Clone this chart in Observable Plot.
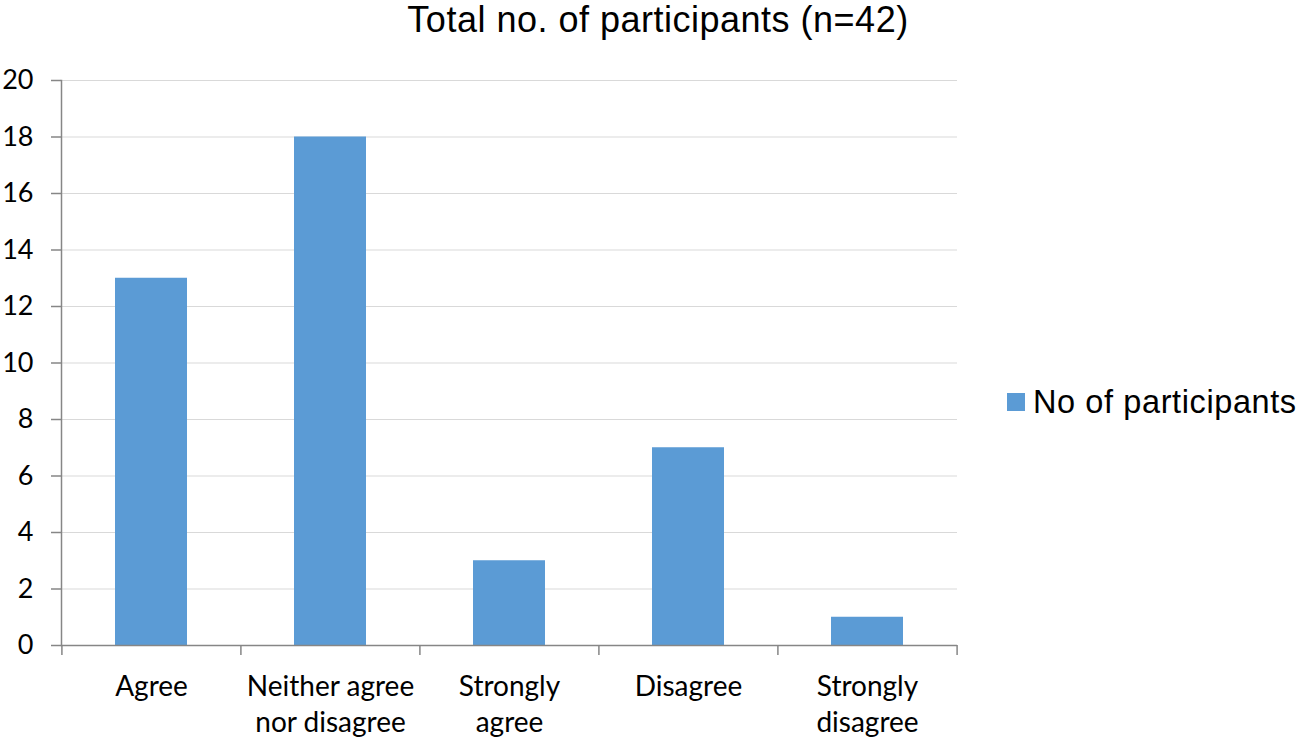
<!DOCTYPE html>
<html>
<head>
<meta charset="utf-8">
<script src="https://cdn.jsdelivr.net/npm/d3@7"></script>
<script src="https://cdn.jsdelivr.net/npm/@observablehq/plot@0.6"></script>
<style>
  html, body { margin: 0; padding: 0; background: #fff; }
  #wrap { position: relative; width: 1299px; height: 743px; overflow: hidden; }
  #title { position: absolute; left: 17px; width: 1282px; top: 2px; text-align: center; line-height: 36px;
    font-family: "Liberation Sans", Arial, sans-serif; font-size: 36px; letter-spacing: 0.5px; color: #000; white-space: nowrap; }
  #legend { position: absolute; left: 1007px; top: 386px; font-family: "Liberation Sans", Arial, sans-serif; line-height: 32px;
    font-size: 32.5px; letter-spacing: 0.6px; color: #000; display: flex; align-items: center; white-space: nowrap; }
  #legend .sw { width: 18px; height: 18px; background: #5B9BD5; margin-right: 8px; }
  #chart { position: absolute; left: 0; top: 0; }
</style>
</head>
<body>
<div id="wrap">
  <div id="chart"></div>
  <div id="title">Total no. of participants (n=42)</div>
  <div id="legend"><div class="sw"></div><span>No of participants</span></div>
</div>
<script>
const categories = ["Agree", "Neither agree nor disagree", "Strongly agree", "Disagree", "Strongly disagree"];
const tickLabels = ["Agree", "Neither agree\nnor disagree", "Strongly\nagree", "Disagree", "Strongly\ndisagree"];
const values = [13, 18, 3, 7, 1];
const yTicks = [0, 2, 4, 6, 8, 10, 12, 14, 16, 18, 20];

const data = categories.map((c, i) => ({category: c, value: values[i]}));
const labelOf = new Map(categories.map((c, i) => [c, tickLabels[i]]));

const W = 1299, H = 743;
const mL = 61, mR = 342, mT = 80, mB = 98;
const step = (W - mL - mR) / categories.length;

const chart = Plot.plot({
  width: W,
  height: H,
  marginLeft: mL,
  marginRight: mR,
  marginTop: mT,
  marginBottom: mB,
  style: {fontFamily: "Lato, sans-serif", color: "#000", background: "#fff"},
  x: {domain: categories, paddingInner: 0.6, paddingOuter: 0.3, label: null},
  y: {domain: [0, 20], label: null},
  marks: [
    Plot.gridY(yTicks, {stroke: "#D9D9D9", strokeOpacity: 1, strokeWidth: 1}),
    Plot.barY(data, {x: "category", y: "value", fill: "#5B9BD5"}),
    Plot.ruleY([0], {stroke: "#868686", strokeWidth: 1.5}),
    Plot.frame({anchor: "left", stroke: "#868686", strokeWidth: 1.5}),
    Plot.ruleX(categories, {x: d => d, y1: 0, y2: 0, insetBottom: -10, dx: -step / 2, stroke: "#868686", strokeWidth: 1.5}),
    Plot.ruleX(categories.slice(-1), {x: d => d, y1: 0, y2: 0, insetBottom: -10, dx: step / 2, stroke: "#868686", strokeWidth: 1.5}),
    Plot.axisY(yTicks, {tickSize: 10, tickPadding: 18, fontSize: 27, stroke: "#868686", strokeWidth: 1.5, label: null, color: "#000"}),
    Plot.axisX({tickSize: 0, tickPadding: 25, fontSize: 28, lineHeight: 1.29, tickFormat: d => labelOf.get(d), label: null, color: "#000"})
  ]
});
document.getElementById("chart").appendChild(chart);
</script>
</body>
</html>
